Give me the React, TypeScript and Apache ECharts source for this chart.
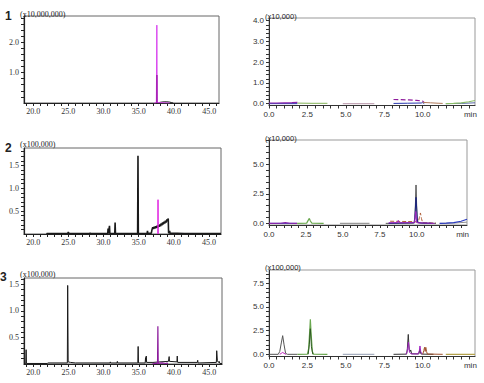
import React, { useEffect, useRef } from "react";
import * as echarts from "echarts";

// ---------- tick / label values ----------
const LEFT_X_LABELS = [20, 25, 30, 35, 40, 45];
const LEFT_X_TICKS = [19, 20, 21, 22, 23, 24, 25, 26, 27, 28, 29, 30, 31, 32, 33, 34, 35, 36, 37, 38, 39, 40, 41, 42, 43, 44, 45, 46];
const L1_Y_LABELS = [1.0, 2.0];
const L1_Y_TICKS = [0.2, 0.4, 0.6, 0.8, 1.0, 1.2, 1.4, 1.6, 1.8, 2.0, 2.2, 2.4, 2.6, 2.8];
const L2_Y_LABELS = [0.5, 1.0, 1.5];
const L2_Y_TICKS = [0.1, 0.2, 0.3, 0.4, 0.5, 0.6, 0.7, 0.8, 0.9, 1.0, 1.1, 1.2, 1.3, 1.4, 1.5, 1.6, 1.7, 1.8];
const L3_Y_LABELS = [0.5, 1.0, 1.5];
const L3_Y_TICKS = [0.1, 0.2, 0.3, 0.4, 0.5, 0.6, 0.7, 0.8, 0.9, 1.0, 1.1, 1.2, 1.3, 1.4, 1.5, 1.6];

const RIGHT_X_LABEL_VALUES = [0, 2.5, 5, 7.5, 10, 13.1];
const RIGHT_X_LABEL_TEXT = ["0.0", "2.5", "5.0", "7.5", "10.0", "min"];
const RIGHT_X_TICKS = [0, 0.5, 1, 1.5, 2, 2.5, 3, 3.5, 4, 4.5, 5, 5.5, 6, 6.5, 7, 7.5, 8, 8.5, 9, 9.5, 10, 10.5, 11, 11.5, 12, 12.5, 13];
const R1_Y_LABELS = [0, 1, 2, 3, 4];
const R1_Y_TICKS = [0, 0.2, 0.4, 0.6, 0.8, 1, 1.2, 1.4, 1.6, 1.8, 2, 2.2, 2.4, 2.6, 2.8, 3, 3.2, 3.4, 3.6, 3.8, 4];
const R2_Y_LABELS = [0, 2.5, 5];
const R2_Y_TICKS = [0, 0.5, 1, 1.5, 2, 2.5, 3, 3.5, 4, 4.5, 5, 5.5, 6, 6.5, 7];
const R3_Y_LABELS = [0, 2.5, 5, 7.5];
const R3_Y_TICKS = [0, 0.5, 1, 1.5, 2, 2.5, 3, 3.5, 4, 4.5, 5, 5.5, 6, 6.5, 7, 7.5, 8, 8.5];

// ---------- panel 1 (left, x10,000,000) ----------
const L1_BLACK = [[37.4, 0], [37.8, 0.01], [38.2, 0.03], [38.6, 0.04], [39.0, 0.04], [39.4, 0.03], [39.7, 0.01], [39.9, 0]];
const L1_MAGENTA = [[37.2, 0], [37.5, 0.005], [37.57, 2.56], [37.62, 0.01], [38.2, 0.01], [38.8, 0.005], [39.4, 0]];
const L1_MAGENTA_DARK = [[37.55, 0], [37.58, 0.92], [37.61, 0]];

// ---------- panel 2 (left, x100,000) ----------
const L2_BLACK = [
  [21.9, 0], [22.0, 0.01], [24.9, 0.01], [25.0, 0.04], [25.1, 0.01], [28.0, 0.01], [28.1, 0.02], [28.2, 0.01],
  [30.6, 0.01], [30.65, 0.12], [30.7, 0.01], [30.8, 0.01], [30.85, 0.18], [30.9, 0.01],
  [31.6, 0.01], [31.65, 0.25], [31.7, 0.01], [34.85, 0.01], [34.9, 1.71], [34.95, 0.01],
  [36.2, 0.01], [36.25, 0.07], [36.3, 0.01], [36.8, 0.02],
  [36.9, 0.10], [37.0, 0.15], [37.1, 0.11], [37.2, 0.16], [37.3, 0.12], [37.4, 0.17], [37.5, 0.13], [37.6, 0.18],
  [37.7, 0.14], [37.8, 0.19], [37.9, 0.16], [38.0, 0.21], [38.1, 0.17], [38.2, 0.23], [38.3, 0.19], [38.4, 0.25],
  [38.5, 0.21], [38.6, 0.27], [38.7, 0.23], [38.8, 0.29], [38.9, 0.25], [39.0, 0.32], [39.1, 0.28], [39.2, 0.34],
  [39.25, 0.03], [39.35, 0.02], [39.4, 0.07], [39.45, 0.02], [41.5, 0.01], [46.7, 0.01]
];
const L2_MAGENTA = [[37.72, 0], [37.75, 0.75], [37.78, 0]];

// ---------- panel 3 (left, x100,000) ----------
const L3_BLACK = [
  [18.7, 0], [18.95, 0.01], [19.0, 0.27], [19.05, 0.01], [22.0, 0.01], [22.1, 0.02], [24.85, 0.02], [24.9, 1.48],
  [24.97, 0.04], [25.3, 0.03], [26.0, 0.02], [30.9, 0.02], [30.95, 0.04], [31.0, 0.02], [31.9, 0.02], [31.95, 0.05],
  [32.0, 0.02], [34.85, 0.02], [34.9, 0.33], [34.95, 0.02], [35.9, 0.02], [35.95, 0.12], [36.0, 0.05], [36.05, 0.15],
  [36.1, 0.03], [37.0, 0.03], [38.0, 0.04], [39.2, 0.05], [39.3, 0.14], [39.35, 0.05], [40.4, 0.04], [40.45, 0.15],
  [40.5, 0.03], [43.3, 0.03], [43.35, 0.07], [43.4, 0.02], [46.0, 0.03], [46.05, 0.25], [46.15, 0.06], [46.3, 0.03],
  [46.4, 0.05], [46.5, 0.01], [46.8, 0.01]
];
const L3_MAGENTA = [[36.9, 0], [37.2, 0.01], [37.65, 0.01], [37.7, 0.71], [37.75, 0.01], [38.3, 0.02], [38.8, 0.01], [39.0, 0.02], [39.1, 0]];

// ---------- panel 1 (right, x10,000) ----------
const R1_BLUE_A = [[0, 0], [1.85, 0]];
const R1_PURPLE_A = [[0, 0.03], [0.5, 0.03], [1.0, 0.04], [1.5, 0.05], [1.85, 0.06]];
const R1_GREEN_A = [[1.85, 0.02], [2.8, 0.01], [3.8, 0.01]];
const R1_MAUVE = [[4.8, 0], [6.85, 0]];
const R1_BLUE_B = [[8.1, 0.01], [9.0, 0.02], [9.9, 0.03], [10.0, 0.05], [10.1, 0.0]];
const R1_PURPLE_B = [[8.1, 0.2], [8.6, 0.19], [9.1, 0.18], [9.6, 0.16], [10.0, 0.12], [10.1, 0.05]];
const R1_BROWN = [[10.0, 0.06], [10.5, 0.04], [11.0, 0.02], [11.3, 0.01]];
const R1_BLUE_C = [[11.5, 0], [12.5, 0.01], [13.4, 0.04]];
const R1_GREEN_C = [[11.5, 0], [12.0, 0.01], [12.5, 0.04], [13.0, 0.09], [13.4, 0.15]];

// ---------- panel 2 (right, x10,000) ----------
const R2_BLUE_A = [[0, 0], [1.9, 0]];
const R2_PURPLE_A = [[0, 0], [0.8, 0.01], [1.1, 0.06], [1.4, 0.01], [1.9, 0]];
const R2_GREEN = [[1.9, 0], [2.55, 0.02], [2.65, 0.25], [2.73, 0.42], [2.8, 0.2], [2.9, 0.02], [3.7, 0]];
const R2_GRAY = [[4.8, 0], [6.8, 0]];
const R2_BROWN = [[8.2, 0.18], [9.0, 0.16], [9.8, 0.15], [10.1, 0.1], [10.18, 0.5], [10.25, 0.88], [10.32, 0.4], [10.4, 0.05], [11.3, 0.02]];
const R2_BLACK = [[7.9, 0], [9.8, 0.02], [9.88, 0.5], [9.95, 3.25], [10.02, 0.4], [10.1, 0.03], [11.3, 0]];
const R2_NAVY = [[8.1, 0], [9.85, 0.05], [9.95, 2.2], [10.05, 0.1], [10.3, 0.02], [11.0, 0]];
const R2_PURPLE_B = [[8.1, 0.05], [8.7, 0.06], [8.75, 0.25], [8.8, 0.05], [9.85, 0.06], [9.93, 1.0], [10.0, 0.05], [10.5, 0.03], [11.2, 0]];
const R2_GRAY_C = [[11.55, 0], [12.5, 0.02], [13.4, 0.1]];
const R2_BLUE_C = [[11.55, 0], [12.0, 0.02], [12.5, 0.06], [13.0, 0.18], [13.4, 0.35]];

// ---------- panel 3 (right, x100,000) ----------
const R3_BLACK_A = [[0, 0], [0.6, 0], [0.7, 0.3], [0.8, 1.2], [0.89, 1.97], [0.98, 1.0], [1.08, 0.1], [1.2, 0], [1.85, 0]];
const R3_MAGENTA_A = [[0.7, 0], [0.8, 0.1], [0.89, 0.2], [0.98, 0.1], [1.1, 0]];
const R3_GREEN = [[1.85, 0], [2.5, 0.02], [2.58, 0.6], [2.65, 2.5], [2.69, 3.7], [2.74, 2.2], [2.82, 0.3], [2.9, 0.02], [3.8, 0]];
const R3_DKGREEN = [[2.55, 0], [2.62, 1.0], [2.69, 2.7], [2.76, 0.8], [2.85, 0]];
const R3_GRAY = [[4.8, 0], [6.85, 0]];
const R3_BLACK_B = [[8.1, 0], [8.95, 0.02], [9.0, 0.6], [9.06, 2.1], [9.12, 0.5], [9.18, 0.3], [9.22, 0.46], [9.28, 0.05], [9.75, 0.05], [9.82, 0.46], [9.88, 0.05], [10.0, 0.02], [10.7, 0]];
const R3_MAGENTA_B = [[8.9, 0], [9.0, 0.3], [9.07, 1.27], [9.14, 0.2], [9.25, 0.05], [9.7, 0.03], [9.78, 0.4], [9.82, 0.88], [9.87, 0.3], [9.95, 0]];
const R3_BROWN = [[10.0, 0], [10.07, 0.4], [10.12, 0.74], [10.16, 0.3], [10.2, 0.74], [10.25, 0.3], [10.3, 0.03], [11.3, 0]];
const R3_OLIVE = [[11.5, 0], [13.4, 0]];

const SERIF = "Liberation Serif";
const SANS = "Liberation Sans";

function leftX(g: number, max: number) {
  return {
    type: "value", gridIndex: g, min: 18.7, max,
    axisLine: { show: true, onZero: false, lineStyle: { color: "#222", width: 1.2 } },
    axisTick: { show: true, customValues: LEFT_X_TICKS, length: 3, lineStyle: { color: "#222" } },
    axisLabel: { customValues: LEFT_X_LABELS, formatter: (v: number) => v.toFixed(1), fontFamily: SERIF, fontSize: 8, color: "#333", margin: 4 },
    splitLine: { show: false },
  };
}
function leftY(g: number, max: number, labels: number[], ticks: number[]) {
  return {
    type: "value", gridIndex: g, min: 0, max,
    axisLine: { show: true, onZero: false, lineStyle: { color: "#222", width: 1.2 } },
    axisTick: { show: true, customValues: ticks, length: 3, lineStyle: { color: "#222" } },
    axisLabel: { customValues: labels, formatter: (v: number) => v.toFixed(1), fontFamily: SERIF, fontSize: 8, color: "#333", margin: 5 },
    splitLine: { show: false },
  };
}
function rightX(g: number) {
  return {
    type: "value", gridIndex: g, min: 0, max: 13.4,
    axisLine: { show: true, onZero: false, lineStyle: { color: "#333", width: 1 } },
    axisTick: { show: true, customValues: RIGHT_X_TICKS, length: 3, lineStyle: { color: "#333" } },
    axisLabel: {
      customValues: RIGHT_X_LABEL_VALUES,
      formatter: (v: number) => RIGHT_X_LABEL_TEXT[RIGHT_X_LABEL_VALUES.indexOf(v)] ?? "",
      fontFamily: SANS, fontSize: 8, color: "#333", margin: 5,
    },
    splitLine: { show: false },
  };
}
function rightY(g: number, min: number, max: number, labels: number[], ticks: number[]) {
  return {
    type: "value", gridIndex: g, min, max,
    axisLine: { show: true, onZero: false, lineStyle: { color: "#333", width: 1 } },
    axisTick: { show: true, customValues: ticks, length: 3, lineStyle: { color: "#333" } },
    axisLabel: { customValues: labels, formatter: (v: number) => v.toFixed(1), fontFamily: SANS, fontSize: 8, color: "#333", margin: 5 },
    splitLine: { show: false },
  };
}
function line(data: number[][], color: string, g: number, width = 1, type: any = "solid") {
  return {
    type: "line", xAxisIndex: g, yAxisIndex: g, data, symbol: "none", silent: true,
    lineStyle: { color, width, type }, itemStyle: { color }, clip: true,
  };
}
function txt(x: number, y: number, text: string, font: string, size: number, weight = "normal") {
  return { type: "text", x, y, style: { text, fontFamily: font, fontSize: size, fontWeight: weight, fill: "#222", textVerticalAlign: "middle" }, silent: true };
}

export default function App() {
  const ref = useRef<HTMLDivElement>(null);
  useEffect(() => {
    const chart = echarts.init(ref.current!, null, { renderer: "svg" });
    const gridL = { show: true, borderColor: "#666", borderWidth: 1 };
    const gridR = { show: true, borderColor: "#999", borderWidth: 1 };
    const option: any = {
      animation: false,
      backgroundColor: "#fff",
      grid: [
        { ...gridL, left: 24, top: 16, width: 195, height: 87 },
        { ...gridR, left: 269, top: 18, width: 206, height: 87.5 },
        { ...gridL, left: 24, top: 148, width: 197, height: 86 },
        { ...gridR, left: 269, top: 140, width: 198, height: 85 },
        { ...gridL, left: 24, top: 278, width: 198, height: 86 },
        { ...gridR, left: 269, top: 270, width: 206, height: 86.5 },
      ],
      xAxis: [leftX(0, 46.4), rightX(1), leftX(2, 46.7), rightX(3), leftX(4, 46.8), rightX(5)],
      yAxis: [
        leftY(0, 2.86, L1_Y_LABELS, L1_Y_TICKS),
        rightY(1, -0.09, 4.13, R1_Y_LABELS, R1_Y_TICKS),
        leftY(2, 1.88, L2_Y_LABELS, L2_Y_TICKS),
        rightY(3, -0.14, 7.06, R2_Y_LABELS, R2_Y_TICKS),
        leftY(4, 1.62, L3_Y_LABELS, L3_Y_TICKS),
        rightY(5, -0.23, 8.9, R3_Y_LABELS, R3_Y_TICKS),
      ],
      series: [
        line(L1_BLACK, "#222", 0),
        line(L1_MAGENTA, "#d946ef", 0),
        line(L1_MAGENTA_DARK, "#a21caf", 0),

        line(R1_BLUE_A, "#2838b0", 1),
        line(R1_PURPLE_A, "#8e24aa", 1, 1.2),
        line(R1_GREEN_A, "#9cc27a", 1, 1.2),
        line(R1_MAUVE, "#c4a8b8", 1, 1.2),
        line(R1_BLUE_B, "#2838b0", 1),
        line(R1_PURPLE_B, "#8e1c9c", 1, 1.2, "dashed"),
        line(R1_BROWN, "#b07a5a", 1),
        line(R1_BLUE_C, "#5a6aa8", 1),
        line(R1_GREEN_C, "#8cbf6a", 1, 1.2),

        line(L2_BLACK, "#1a1a1a", 2, 1.6),
        line(L2_MAGENTA, "#e020e0", 2),

        line(R2_BLUE_A, "#2838b0", 3),
        line(R2_PURPLE_A, "#8e24aa", 3, 1.2),
        line(R2_GREEN, "#6aa84f", 3, 1.2),
        line(R2_GRAY, "#9a9a9a", 3, 1.2),
        line(R2_BROWN, "#b0603a", 3, 1, "dashed"),
        line(R2_BLACK, "#555", 3),
        line(R2_NAVY, "#1a237e", 3),
        line(R2_PURPLE_B, "#a020c0", 3),
        line(R2_GRAY_C, "#909090", 3),
        line(R2_BLUE_C, "#2838c0", 3, 1.2),

        line(L3_BLACK, "#1a1a1a", 4),
        line(L3_MAGENTA, "#8b1a9b", 4, 1.2),

        line(R3_BLACK_A, "#555", 5),
        line(R3_MAGENTA_A, "#c020c0", 5),
        line(R3_GREEN, "#6aa84f", 5, 1.2),
        line(R3_DKGREEN, "#2e5a22", 5),
        line(R3_GRAY, "#a8b0c0", 5, 1.2),
        line(R3_BLACK_B, "#333", 5),
        line(R3_MAGENTA_B, "#a020c0", 5),
        line(R3_BROWN, "#a0522d", 5),
        line(R3_OLIVE, "#b5a34c", 5, 1.2),
      ],
      graphic: [
        txt(5, 16, "1", SANS, 12, "bold"),
        txt(5, 148, "2", SANS, 12, "bold"),
        txt(0, 277, "3", SANS, 12, "bold"),
        txt(20, 14, "(x10,000,000)", SERIF, 8),
        txt(265, 16, "(x10,000)", SANS, 7.5),
        txt(20, 144, "(x100,000)", SERIF, 8),
        txt(265, 138, "(x10,000)", SANS, 7.5),
        txt(20, 274, "(x100,000)", SERIF, 8),
        txt(265, 267.5, "(x100,000)", SANS, 7.5),
      ],
    };
    chart.setOption(option);
    return () => chart.dispose();
  }, []);
  return <div ref={ref} style={{ position: "fixed", left: 0, top: 0, width: 484, height: 383, background: "#fff" }} />;
}
